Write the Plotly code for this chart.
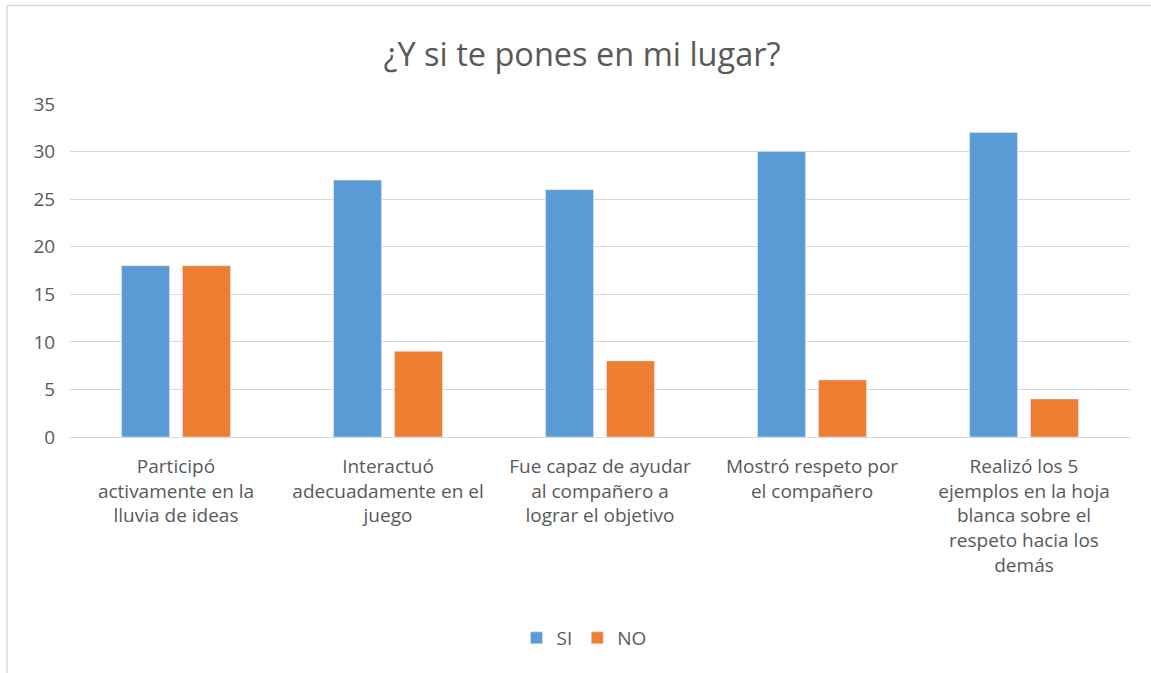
import plotly.graph_objects as go

categories = [
    "Participó<br>activamente en la<br>lluvia de ideas",
    "Interactuó<br>adecuadamente en el<br>juego",
    "Fue capaz de ayudar<br>al compañero a<br>lograr el objetivo",
    "Mostró respeto por<br>el compañero",
    "Realizó los 5<br>ejemplos en la hoja<br>blanca sobre el<br>respeto hacia los<br>demás",
]
si_values = [18, 27, 26, 30, 32]
no_values = [18, 9, 8, 6, 4]
y_ticks = [0, 5, 10, 15, 20, 25, 30, 35]

FONT = "Open Sans"
TXT = "#595959"

L, R_EDGE, T, B_EDGE = 70, 1130, 104, 437
W = R_EDGE - L
H = B_EDGE - T
fig = go.Figure()
fig.add_trace(go.Bar(name="SI", x=categories, y=si_values, marker_color="#5B9BD5"))
fig.add_trace(go.Bar(name="NO", x=categories, y=no_values, marker_color="#ED7D31"))

fig.update_layout(
    width=1151, height=673,
    margin=dict(l=L, r=1151 - R_EDGE, t=T, b=673 - B_EDGE),
    paper_bgcolor="white", plot_bgcolor="white",
    barmode="group", bargap=0.425, bargroupgap=0.213,
    title=dict(text="¿Y si te pones en mi lugar?", x=582 / 1151, xref="container", xanchor="center",
               y=1 - 55 / 673, yanchor="middle",
               font=dict(family=FONT, size=32.5, color=TXT)),
    font=dict(family=FONT, color=TXT),
    legend=dict(orientation="h", x=0.5 - 16 / W, xanchor="center", y=-(638 - B_EDGE) / H,
                yanchor="middle",
                font=dict(size=19, color=TXT), itemwidth=30, traceorder="normal"),
    showlegend=True,
)
fig.update_yaxes(range=[0, 35], tickvals=y_ticks, showgrid=True, gridcolor="#D9D9D9",
                 gridwidth=1, zeroline=False, showline=False,
                 ticks="outside", ticklen=10, tickcolor="rgba(0,0,0,0)",
                 tickfont=dict(size=19, color=TXT))
fig.update_xaxes(showline=True, linecolor="#D9D9D9", linewidth=1,
                 ticks="outside", ticklen=12, tickcolor="rgba(0,0,0,0)",
                 tickfont=dict(size=19, color=TXT), tickangle=0)

# outer chart border
fig.add_shape(type="rect", xref="paper", yref="paper",
              x0=(7 - L) / W, x1=1.1, y0=-1.0, y1=(B_EDGE - 5.5) / H,
              line=dict(color="#D9D9D9", width=1.5), fillcolor="rgba(0,0,0,0)", layer="below")

fig.write_html("out.html", config={"displayModeBar": False},
               post_script="document.body.style.margin='0px';")
